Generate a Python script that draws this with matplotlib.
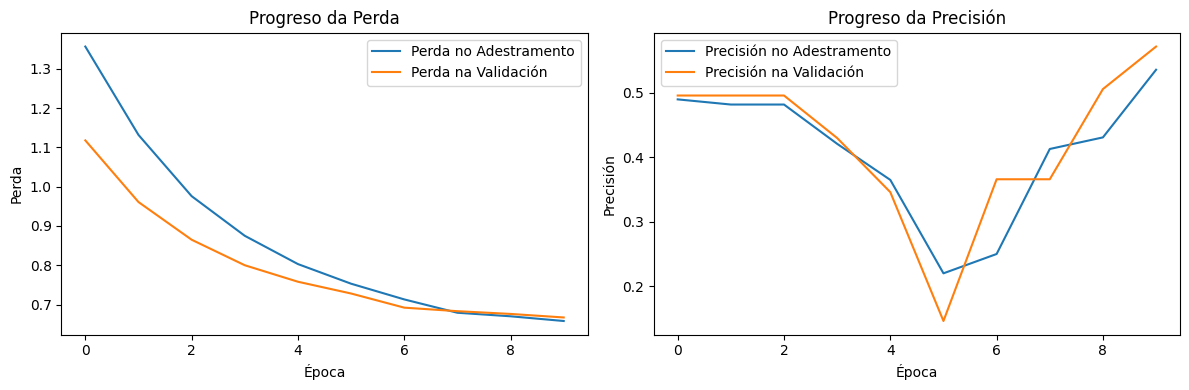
import matplotlib
matplotlib.use("Agg")
import matplotlib.pyplot as plt

epocas = list(range(10))
perda_adestramento = [1.357, 1.132, 0.976, 0.875, 0.803, 0.753, 0.713, 0.679, 0.670, 0.658]
perda_validacion = [1.118, 0.961, 0.865, 0.800, 0.758, 0.728, 0.692, 0.683, 0.676, 0.667]
precision_adestramento = [0.490, 0.482, 0.482, 0.421, 0.365, 0.220, 0.250, 0.413, 0.431, 0.536]
precision_validacion = [0.496, 0.496, 0.496, 0.430, 0.346, 0.146, 0.366, 0.366, 0.506, 0.572]

fig = plt.figure(figsize=(12, 4), dpi=100)

plt.subplot(1, 2, 1)
plt.plot(epocas, perda_adestramento, label="Perda no Adestramento")
plt.plot(epocas, perda_validacion, label="Perda na Validación")
plt.title("Progreso da Perda")
plt.xlabel("Época")
plt.ylabel("Perda")
plt.legend()

plt.subplot(1, 2, 2)
plt.plot(epocas, precision_adestramento, label="Precisión no Adestramento")
plt.plot(epocas, precision_validacion, label="Precisión na Validación")
plt.title("Progreso da Precisión")
plt.xlabel("Época")
plt.ylabel("Precisión")
plt.legend()

plt.tight_layout()
plt.savefig("out.png", bbox_inches="tight")
